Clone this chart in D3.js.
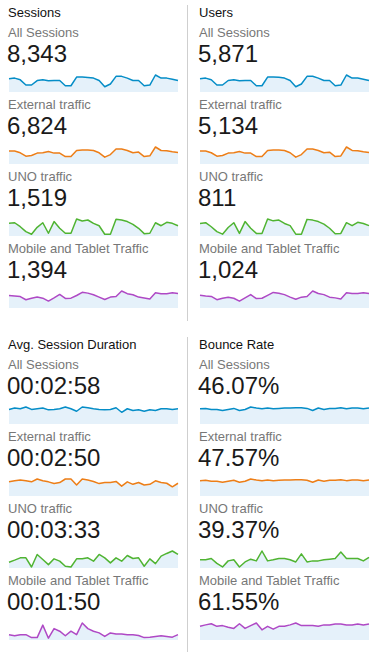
<!DOCTYPE html>
<html>
<head>
<meta charset="utf-8">
<script src="https://cdn.jsdelivr.net/npm/d3@7"></script>
<style>
  body { margin: 0; background: #fff; }
  svg { display: block; font-family: Arial, "Liberation Sans", sans-serif; }
</style>
</head>
<body>
<script>
// segments and colours
const segments = ['All Sessions', 'External traffic', 'UNO traffic', 'Mobile and Tablet Traffic'];
const colors = ['#058dc7', '#ed7e17', '#50b432', '#af49c5'];

// metric titles and totals
const titles = ['Sessions', 'Users', 'Avg. Session Duration', 'Bounce Rate'];
const sessionsTotals = ['8,343', '6,824', '1,519', '1,394'];
const usersTotals = ['5,871', '5,134', '811', '1,024'];
const durationTotals = ['00:02:58', '00:02:50', '00:03:33', '00:01:50'];
const bounceTotals = ['46.07%', '47.57%', '39.37%', '61.55%'];

// daily values (31 days)
const sessionsAll = [310, 325, 285, 163, 163, 268, 285, 261, 268, 268, 146, 146, 349, 349, 342, 325, 268, 122, 188, 366, 366, 325, 268, 268, 146, 163, 398, 325, 325, 300, 268];
const sessionsExt = [248, 248, 215, 150, 162, 209, 215, 240, 209, 209, 142, 142, 259, 267, 267, 259, 215, 131, 181, 287, 287, 259, 215, 228, 142, 156, 326, 259, 254, 234, 220];
const sessionsUno = [64, 67, 47, 22, 9, 44, 67, 14, 73, 39, 14, 14, 86, 76, 81, 64, 52, 9, 9, 85, 81, 73, 59, 39, 12, 14, 67, 52, 69, 64, 52];
const sessionsMob = [47, 45, 43, 31, 37, 41, 37, 26, 38, 51, 36, 37, 47, 59, 56, 50, 41, 32, 41, 43, 64, 54, 50, 41, 38, 34, 57, 54, 54, 57, 55];

const usersAll = [218, 229, 201, 115, 115, 189, 201, 184, 189, 189, 103, 103, 246, 246, 241, 229, 189, 86, 132, 258, 258, 229, 189, 189, 103, 115, 280, 229, 229, 211, 189];
const usersExt = [187, 187, 162, 113, 122, 157, 162, 180, 157, 157, 107, 107, 195, 201, 201, 195, 162, 99, 136, 216, 216, 195, 162, 171, 107, 117, 245, 195, 191, 176, 165];
const usersUno = [34, 36, 25, 12, 5, 23, 36, 7, 39, 21, 7, 7, 46, 41, 43, 34, 28, 5, 5, 45, 43, 39, 32, 21, 6, 7, 36, 28, 37, 34, 28];
const usersMob = [35, 33, 32, 23, 27, 30, 27, 19, 28, 37, 26, 27, 35, 43, 41, 37, 30, 24, 30, 32, 47, 40, 37, 30, 28, 25, 42, 40, 40, 42, 40];

const durationAll = [174, 190, 182, 203, 174, 182, 190, 169, 174, 182, 203, 182, 152, 203, 194, 182, 174, 169, 174, 194, 140, 182, 161, 169, 152, 169, 161, 182, 182, 174, 182];
const durationExt = [173, 186, 195, 186, 173, 208, 186, 173, 152, 165, 208, 208, 134, 208, 195, 178, 152, 165, 165, 178, 121, 173, 143, 165, 134, 143, 186, 165, 156, 113, 156];
const durationUno = [143, 193, 250, 250, 25, 333, 208, 83, 225, 168, 43, 25, 225, 225, 250, 168, 333, 250, 125, 250, 168, 308, 233, 250, 43, 225, 108, 293, 358, 418, 333];
const durationMob = [97, 77, 97, 97, 44, 44, 270, 33, 207, 160, 77, 160, 97, 309, 207, 160, 129, 64, 129, 110, 110, 97, 97, 83, 44, 52, 64, 77, 64, 52, 97];

const bounceAll = [45.8, 46.7, 43.6, 43.6, 40.6, 43.6, 46.7, 40.6, 43.6, 50.9, 47.9, 45.8, 47.9, 45.8, 46.7, 47.9, 47.9, 48.8, 48.8, 46.7, 40.6, 47.9, 43.6, 46.7, 46.7, 48.8, 45.8, 47.9, 47.9, 45.8, 47.9];
const bounceExt = [47, 48, 45, 45, 42, 45, 48, 42, 45, 52, 49, 47, 49, 47, 48, 49, 49, 50, 50, 48, 42, 49, 45, 48, 48, 50, 47, 49, 49, 47, 49];
const bounceUno = [38.5, 38.5, 45, 21.5, 5, 33.5, 38.5, 5, 28.5, 41.5, 33.5, 80, 33.5, 38.5, 45, 45, 38.5, 28.5, 66.5, 28.5, 33.5, 33.5, 38.5, 41.5, 45, 75, 45, 45, 45, 33.5, 50];
const bounceMob = [58, 64, 69, 58, 61, 54, 49, 69, 49, 61, 72, 43, 58, 46, 58, 58, 64, 72, 61, 61, 61, 58, 64, 64, 68, 68, 64, 64, 68, 64, 68];

// layout
const W = 376, H = 652;
const colX = [9, 200];      // left edge of each column
const sectionY = [0, 332];  // top of each section
const sparkW = 169, sparkH = 17;
const rowStep = 72;

const panels = [
    { title: titles[0], col: 0, sec: 0, totals: sessionsTotals, series: [sessionsAll, sessionsExt, sessionsUno, sessionsMob] },
    { title: titles[1], col: 1, sec: 0, totals: usersTotals, series: [usersAll, usersExt, usersUno, usersMob] },
    { title: titles[2], col: 0, sec: 1, totals: durationTotals, series: [durationAll, durationExt, durationUno, durationMob] },
    { title: titles[3], col: 1, sec: 1, totals: bounceTotals, series: [bounceAll, bounceExt, bounceUno, bounceMob] }
];

const svg = d3.select('body')
    .append('svg')
    .attr('width', W)
    .attr('height', H);

// column dividers
svg.selectAll('line.divider')
    .data([[5, 321], [337, H]])
    .enter()
    .append('line')
    .attr('class', 'divider')
    .attr('x1', 187.5).attr('x2', 187.5)
    .attr('y1', d => d[0]).attr('y2', d => d[1])
    .attr('stroke', '#cfcfcf')
    .attr('stroke-width', 1);

panels.forEach(p => {
    const x0 = colX[p.col];
    const y0 = sectionY[p.sec];
    const g = svg.append('g');

    g.append('text')
        .attr('x', x0 - 1)
        .attr('y', y0 + 17)
        .attr('font-size', 13)
        .attr('fill', '#111')
        .text(p.title);

    p.series.forEach((data, i) => {
        const top = y0 + rowStep * i;
        const bottom = top + 92;

        g.append('text')
            .attr('x', x0 - 1)
            .attr('y', top + 37)
            .attr('font-size', 13)
            .attr('fill', '#777')
            .text(segments[i]);

        g.append('text')
            .attr('x', x0 - 2)
            .attr('y', top + 62)
            .attr('font-size', 24)
            .attr('fill', '#1a1a1a')
            .text(p.totals[i]);

        const x = d3.scaleLinear()
            .domain([0, data.length - 1])
            .range([x0, x0 + sparkW]);
        const y = d3.scaleLinear()
            .domain([0, d3.max(data)])
            .range([bottom, bottom - sparkH]);

        const area = d3.area()
            .x((d, j) => x(j))
            .y0(bottom)
            .y1(d => y(d));
        const line = d3.line()
            .x((d, j) => x(j))
            .y(d => y(d));

        g.append('path')
            .datum(data)
            .attr('d', area)
            .attr('fill', '#e5f1fa');

        g.append('path')
            .datum(data)
            .attr('d', line)
            .attr('fill', 'none')
            .attr('stroke', colors[i])
            .attr('stroke-width', 1.5)
            .attr('stroke-linejoin', 'round');
    });
});
</script>
</body>
</html>
